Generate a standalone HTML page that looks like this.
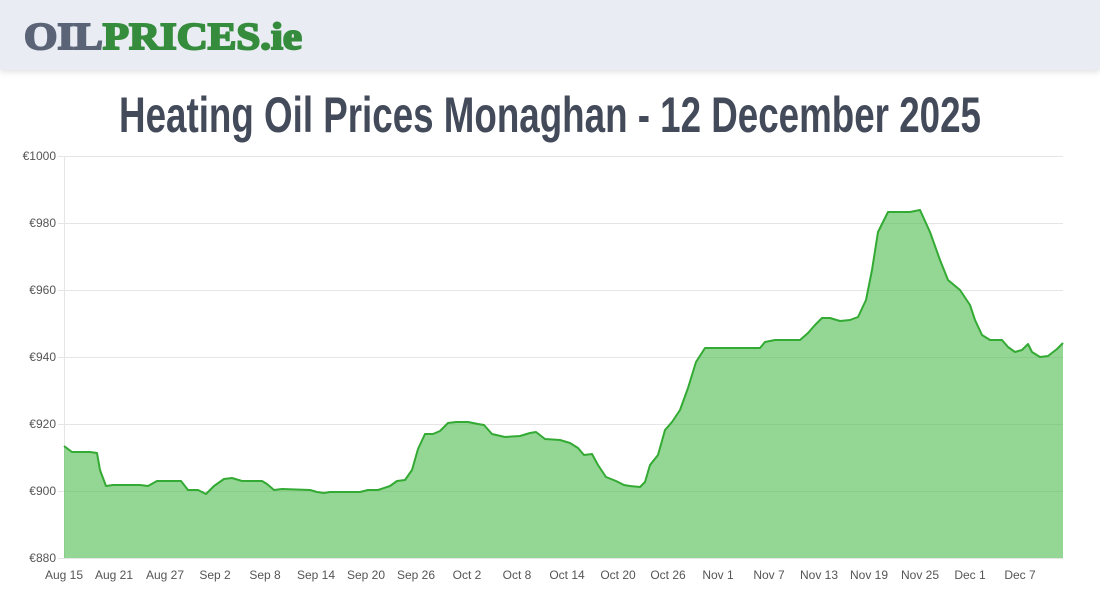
<!DOCTYPE html>
<html><head><meta charset="utf-8"><style>
body{margin:0;width:1100px;height:600px;background:#fff;overflow:hidden;font-family:"Liberation Sans",sans-serif}
.hdr{position:absolute;left:0;top:0;width:1100px;height:70px;background:#e9ecf3;box-shadow:0 2px 6px rgba(0,0,0,.12)}
.logo{position:absolute;left:24px;top:15px;font-family:"Liberation Serif",serif;font-weight:bold;font-size:38px;line-height:44px;-webkit-text-stroke:2px;white-space:nowrap;transform:scaleX(1.13);transform-origin:left center}
.title{position:absolute;left:550px;top:84px;font-weight:bold;font-size:50px;color:#434a5a;line-height:62px;white-space:nowrap;transform:translateX(-50%) scaleX(0.735);transform-origin:center}
</style></head><body>
<div class="hdr"><div class="logo"><span style="color:#5b6477">OIL</span><span style="color:#358c3c">PRICES.ie</span></div></div>
<div class="title">Heating Oil Prices Monaghan - 12 December 2025</div>
<svg width="1100" height="600" style="position:absolute;left:0;top:0">
<g stroke="#e5e5e5" stroke-width="1">
<line x1="58" y1="156.5" x2="1063" y2="156.5"/><line x1="58" y1="223.5" x2="1063" y2="223.5"/>
<line x1="58" y1="290.5" x2="1063" y2="290.5"/><line x1="58" y1="357.5" x2="1063" y2="357.5"/>
<line x1="58" y1="424.5" x2="1063" y2="424.5"/><line x1="58" y1="491.5" x2="1063" y2="491.5"/>
<line x1="58" y1="558.5" x2="1063" y2="558.5"/><line x1="64.5" y1="156" x2="64.5" y2="558"/>
</g>
<g font-size="12" fill="#555" text-anchor="end">
<text x="56" y="160">€1000</text><text x="56" y="227">€980</text><text x="56" y="294">€960</text>
<text x="56" y="361">€940</text><text x="56" y="428">€920</text><text x="56" y="495">€900</text><text x="56" y="562">€880</text>
</g>
<g font-size="12" fill="#555" text-anchor="middle">
<text x="64" y="579">Aug 15</text><text x="114" y="579">Aug 21</text><text x="165" y="579">Aug 27</text>
<text x="215" y="579">Sep 2</text><text x="265" y="579">Sep 8</text><text x="316" y="579">Sep 14</text>
<text x="366" y="579">Sep 20</text><text x="416" y="579">Sep 26</text><text x="467" y="579">Oct 2</text>
<text x="517" y="579">Oct 8</text><text x="567" y="579">Oct 14</text><text x="618" y="579">Oct 20</text>
<text x="668" y="579">Oct 26</text><text x="718" y="579">Nov 1</text><text x="769" y="579">Nov 7</text>
<text x="819" y="579">Nov 13</text><text x="869" y="579">Nov 19</text><text x="920" y="579">Nov 25</text>
<text x="970" y="579">Dec 1</text><text x="1020" y="579">Dec 7</text>
</g>
<polygon fill="rgba(76,187,76,0.6)" points="64,558 64,446 72,452 90,452 97,453 100,470 106,486 113,485 140,485 148,486 157,481 165,481 175,481 181,481 188,490 198,490 206,494 214,486 224,479 232,478 242,481 262,481 267,484 274,490 282,489 310,490 317,492 324,493 330,492 360,492 368,490 378,490 390,486 397,481 405,480 412,470 418,449 425,434 433,434 440,431 448,423 456,422 468,422 478,424 484,425 492,434 505,437 520,436 530,433 536,432 545,439 560,440 570,443 578,448 584,455 592,454 598,465 606,477 616,481 624,485 630,486 640,487 645,482 650,465 658,455 665,430 672,422 680,410 688,388 696,362 705,348 712,348 740,348 760,348 765,342 775,340 800,340 808,333 815,325 822,318 830,318 840,321 850,320 858,317 866,300 872,270 878,232 888,212 910,212 920,210 930,232 940,260 948,280 960,290 970,305 975,320 982,335 990,340 1002,340 1008,347 1015,352 1022,350 1028,344 1032,352 1040,357 1048,356 1057,349 1063,343 1063,558"/>
<polyline fill="none" stroke="#33aa33" stroke-width="2" stroke-linejoin="round" points="64,446 72,452 90,452 97,453 100,470 106,486 113,485 140,485 148,486 157,481 165,481 175,481 181,481 188,490 198,490 206,494 214,486 224,479 232,478 242,481 262,481 267,484 274,490 282,489 310,490 317,492 324,493 330,492 360,492 368,490 378,490 390,486 397,481 405,480 412,470 418,449 425,434 433,434 440,431 448,423 456,422 468,422 478,424 484,425 492,434 505,437 520,436 530,433 536,432 545,439 560,440 570,443 578,448 584,455 592,454 598,465 606,477 616,481 624,485 630,486 640,487 645,482 650,465 658,455 665,430 672,422 680,410 688,388 696,362 705,348 712,348 740,348 760,348 765,342 775,340 800,340 808,333 815,325 822,318 830,318 840,321 850,320 858,317 866,300 872,270 878,232 888,212 910,212 920,210 930,232 940,260 948,280 960,290 970,305 975,320 982,335 990,340 1002,340 1008,347 1015,352 1022,350 1028,344 1032,352 1040,357 1048,356 1057,349 1063,343"/>
</svg>
</body></html>
